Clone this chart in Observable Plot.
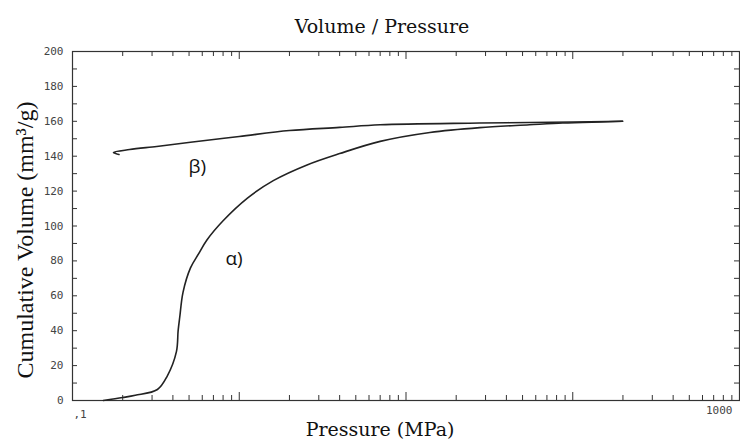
<!DOCTYPE html>
<html>
<head>
<meta charset="utf-8">
<script src="https://cdn.jsdelivr.net/npm/d3@7"></script>
<script src="https://cdn.jsdelivr.net/npm/@observablehq/plot@0.6"></script>
<style>
  html, body { margin: 0; padding: 0; background: #fff; }
</style>
</head>
<body>
<div id="chart"></div>
<script>
// ---- data ----
const alphaPressure = [0.153, 0.2, 0.238, 0.323, 0.37, 0.42, 0.43, 0.44, 0.46, 0.51, 0.57, 0.64, 0.80, 1.12, 1.6, 2.55, 4.0, 7.0, 13.9, 27.7, 55, 87, 115, 199];
const alphaVolume   = [0,     1.7, 3,     6.3,   14,   28,   40,   48,   62,   76,   84,   92,   103,  116,  126, 135,  141.5, 148.5, 153.6, 156.4, 158, 159, 159.3, 160];
const betaPressure  = [199, 100, 27.7, 7.0, 4.0, 2.0, 1.0, 0.51, 0.32, 0.22, 0.176, 0.19];
const betaVolume    = [160, 159.6, 159, 158, 156.5, 154.7, 151.3, 148, 145.6, 143.8, 142.1, 141.0];

const curveLabels   = ["β)", "α)"];
const labelPressure = [0.56, 0.93];
const labelVolume   = [134, 81];

const yTickValues   = [0, 20, 40, 60, 80, 100, 120, 140, 160, 180, 200];
const yMinorValues  = [10, 30, 50, 70, 90, 110, 130, 150, 170, 190];
const xDecades      = [1, 10, 100];
const xMinorValues  = [0.2,0.3,0.4,0.5,0.6,0.7,0.8,0.9, 2,3,4,5,6,7,8,9, 20,30,40,50,60,70,80,90, 200,300,400,500,600,700,800,900];
const xTickLabelLeft  = [{p: 0.1, t: ",1"}];
const xTickLabelRight = [{p: 1000, t: "1000"}];

const title  = "Volume / Pressure";
const xLabel = "Pressure (MPa)";
const yLabel = "Cumulative Volume (mm³/g)";

// ---- build ----
const alpha = alphaPressure.map((p, i) => ({p, v: alphaVolume[i]}));
const beta  = betaPressure.map((p, i) => ({p, v: betaVolume[i]}));
const labels = curveLabels.map((t, i) => ({t, p: labelPressure[i], v: labelVolume[i]}));

const W = 740, H = 442, mL = 72, mR = 1, mT = 51, mB = 42;
const fw = W - mL - mR, fh = H - mT - mB;
const ink = "#222";
const serif = "DejaVu Serif";
const mono = "DejaVu Sans Mono";

const chart = Plot.plot({
  width: W, height: H,
  marginLeft: mL, marginRight: mR, marginTop: mT, marginBottom: mB,
  x: {type: "log", domain: [0.1, 1000], axis: null},
  y: {domain: [0, 200], axis: null},
  style: {background: "#fff"},
  marks: [
    Plot.frame({stroke: "#333", strokeWidth: 1.2}),
    // y ticks (left & right, inward)
    Plot.tickY(yTickValues.concat(yMinorValues), {y: d => d, insetRight: fw - 5, stroke: "#333"}),
    Plot.tickY(yTickValues.concat(yMinorValues), {y: d => d, insetLeft: fw - 5, stroke: "#333"}),
    // x ticks (bottom & top, inward)
    Plot.tickX(xMinorValues, {x: d => d, insetTop: fh - 5, stroke: "#333"}),
    Plot.tickX(xMinorValues, {x: d => d, insetBottom: fh - 5, stroke: "#333"}),
    Plot.tickX(xDecades, {x: d => d, insetTop: fh - 8, stroke: "#333"}),
    Plot.tickX(xDecades, {x: d => d, insetBottom: fh - 8, stroke: "#333"}),
    // y tick labels
    Plot.axisY(yTickValues, {tickSize: 0, tickPadding: 9, label: null, fontSize: 11, fontFamily: mono, fill: "#444"}),
    // x tick labels
    Plot.text(xTickLabelLeft, {x: "p", text: "t", frameAnchor: "bottom", textAnchor: "start", lineAnchor: "middle", dx: 1, dy: 14, fontSize: 11, fontFamily: mono, fill: "#444"}),
    Plot.text(xTickLabelRight, {x: "p", text: "t", frameAnchor: "bottom", textAnchor: "end", lineAnchor: "middle", dx: -7, dy: 10, fontSize: 11, fontFamily: mono, fill: "#444"}),
    // curves
    Plot.line(alpha, {x: "p", y: "v", stroke: ink, strokeWidth: 1.6, curve: "catmull-rom"}),
    Plot.line(beta,  {x: "p", y: "v", stroke: ink, strokeWidth: 1.6, curve: "catmull-rom"}),
    // curve labels
    Plot.text(labels, {x: "p", y: "v", text: "t", fontSize: 19, fontFamily: "Open Sans", fill: "#111"}),
    // title and axis labels
    Plot.text([title], {frameAnchor: "top", textAnchor: "middle", lineAnchor: "middle", dx: -24, dy: -25, fontSize: 19, fontFamily: serif, fill: "#111"}),
    Plot.text([xLabel], {frameAnchor: "bottom", textAnchor: "middle", lineAnchor: "middle", dx: -26, dy: 29, fontSize: 19, fontFamily: serif, fill: "#111"}),
    Plot.text([yLabel], {frameAnchor: "left", textAnchor: "middle", lineAnchor: "middle", dx: -47, dy: 14, rotate: -90, fontSize: 24, fontFamily: "Liberation Serif", fill: "#111"})
  ]
});
document.getElementById("chart").appendChild(chart);
</script>
</body>
</html>
